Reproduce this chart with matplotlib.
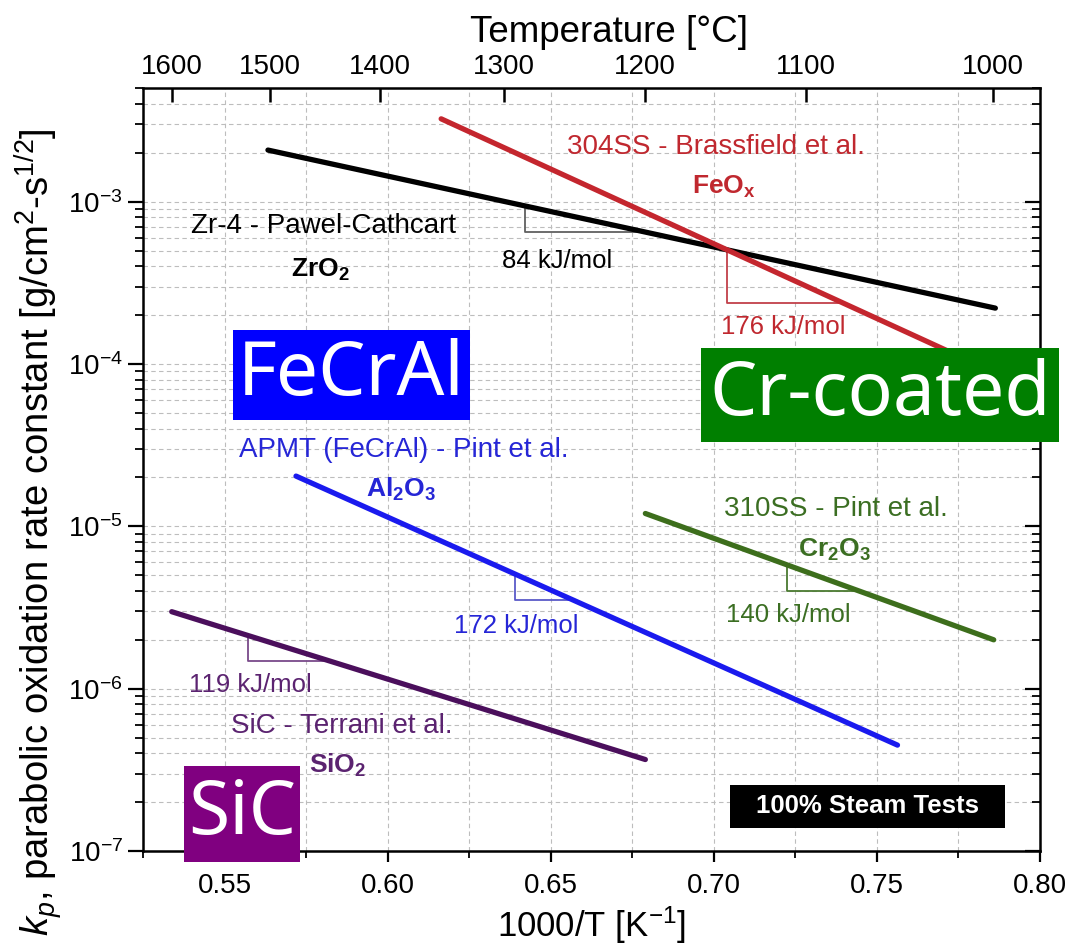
import matplotlib
matplotlib.use("Agg")
import matplotlib.pyplot as plt
import numpy as np
from matplotlib.patches import Rectangle
from matplotlib.ticker import LogLocator, NullFormatter, MultipleLocator

plt.rcParams['font.family'] = ['Liberation Sans', 'DejaVu Sans']
plt.rcParams['mathtext.fontset'] = 'custom'
plt.rcParams['mathtext.rm'] = 'Liberation Sans'
plt.rcParams['mathtext.it'] = 'Liberation Sans:italic'
plt.rcParams['mathtext.bf'] = 'Liberation Sans:bold'

# line end points: x = 1000/T [1/K], kp [g/cm2-s1/2]
zr_x = [0.5633, 0.7863]
zr_kp = [2.08e-3, 2.21e-4]
ss304_x = [0.6164, 0.7854]
ss304_kp = [3.24e-3, 9.0e-5]
apmt_x = [0.5719, 0.7563]
apmt_kp = [2.04e-5, 4.49e-7]
ss310_x = [0.6790, 0.7858]
ss310_kp = [1.20e-5, 2.0e-6]
sic_x = [0.5338, 0.6790]
sic_kp = [2.98e-6, 3.66e-7]

# slope triangles (x start / x end)
zr_tri = [0.6420, 0.6795]
ss304_tri = [0.7041, 0.7397]
apmt_tri = [0.6391, 0.6565]
ss310_tri = [0.7225, 0.7444]
sic_tri = [0.5571, 0.5818]

temps_C = [1600, 1500, 1400, 1300, 1200, 1100, 1000]


def on_line(xs, ys, xq):
    return 10 ** np.interp(xq, xs, np.log10(ys))


def triangle(ax, xs, ys, tri, color):
    y1 = on_line(xs, ys, tri[0])
    y2 = on_line(xs, ys, tri[1])
    ax.plot([tri[0], tri[0], tri[1]], [y1, y2, y2], color=color, lw=1.3, zorder=3)


fig = plt.figure(figsize=(10.69, 9.52), dpi=100)
ax = fig.add_axes([0.1338, 0.1061, 0.8391, 0.8015])

lines = [
    (zr_x, zr_kp, zr_tri, 'black', '#606060'),
    (ss304_x, ss304_kp, ss304_tri, '#c4262e', '#c2404a'),
    (apmt_x, apmt_kp, apmt_tri, '#1a1aee', '#5a5ac8'),
    (ss310_x, ss310_kp, ss310_tri, '#3d6e1c', '#4a7a30'),
    (sic_x, sic_kp, sic_tri, '#4b0f5c', '#7a4a8a'),
]
for xs, ys, tri, c, tc in lines:
    ax.plot(xs, ys, color=c, lw=3.8, solid_capstyle='round', zorder=4)
    triangle(ax, xs, ys, tri, tc)

ax.set_yscale('log')
ax.set_xlim(0.525, 0.80)
ax.set_ylim(1e-7, 5.02e-3)
ax.xaxis.set_major_locator(MultipleLocator(0.05))
ax.xaxis.set_minor_locator(MultipleLocator(0.025))
ax.xaxis.set_major_formatter(matplotlib.ticker.FormatStrFormatter('%.2f'))
ax.yaxis.set_major_locator(LogLocator(base=10))
ax.yaxis.set_minor_locator(LogLocator(base=10, subs=np.arange(2, 10)))
ax.yaxis.set_minor_formatter(NullFormatter())
ax.grid(which='both', ls=(0, (4, 3)), color='#bdbdbd', lw=0.8, zorder=0)
ax.tick_params(axis='x', which='major', direction='out', length=8, width=1.6, labelsize=20, pad=8)
ax.tick_params(axis='x', which='minor', direction='out', length=5, width=1.3)
ax.tick_params(axis='y', which='major', direction='out', length=11, width=1.6, labelsize=20, right=True)
ax.tick_params(axis='y', which='minor', direction='out', length=6, width=1.3, right=True)
for sp in ax.spines.values():
    sp.set_linewidth(1.8)
ax.set_xlabel(r'1000/T [K$^{-1}$]', fontsize=25, labelpad=4)

# right-side ticks point inward
for t in ax.yaxis.get_major_ticks() + ax.yaxis.get_minor_ticks():
    t.tick2line.set_marker(matplotlib.lines.TICKLEFT)

# top temperature axis
ax2 = ax.twiny()
ax2.set_xlim(ax.get_xlim())
ax2.set_xticks([1000.0 / (t + 273.15) for t in temps_C])
ax2.set_xticklabels([str(t) for t in temps_C])
ax2.tick_params(axis='x', direction='in', length=10, width=1.8, labelsize=20, pad=6)
ax2.set_xlabel('Temperature [°C]', fontsize=26.5)
ax2.xaxis.set_label_coords(0.52, 1.06)
for sp in ax2.spines.values():
    sp.set_visible(False)

fig.text(0.036, 0.441,
         r'$k_p$, parabolic oxidation rate constant [g/cm$^2$-s$^{1/2}$]',
         rotation=90, ha='center', va='center', fontsize=27.5)

# annotations (axes fraction)
T = ax.transAxes
ax.text(0.2007, 0.8191, 'Zr-4 - Pawel-Cathcart', transform=T, ha='center', va='center', fontsize=20, color='black')
ax.text(0.1973, 0.7620, r'$\mathbf{ZrO}_{\mathbf{2}}$', transform=T, ha='center', va='center', fontsize=19, color='black')
ax.text(0.4614, 0.7730, '84 kJ/mol', transform=T, ha='center', va='center', fontsize=18.5, color='black')

red = '#c0282f'
ax.text(0.6388, 0.9226, '304SS - Brassfield et al.', transform=T, ha='center', va='center', fontsize=20, color=red)
ax.text(0.6480, 0.8700, r'$\mathbf{FeO}_{\mathbf{x}}$', transform=T, ha='center', va='center', fontsize=19, color=red)
ax.text(0.7135, 0.6868, '176 kJ/mol', transform=T, ha='center', va='center', fontsize=18.5, color=red)

blue = '#2626d6'
ax.text(0.2910, 0.5256, 'APMT (FeCrAl) - Pint et al.', transform=T, ha='center', va='center', fontsize=20, color=blue)
ax.text(0.2876, 0.4740, r'$\mathbf{Al}_{\mathbf{2}}\mathbf{O}_{\mathbf{3}}$', transform=T, ha='center', va='center', fontsize=19, color=blue)
ax.text(0.4158, 0.2949, '172 kJ/mol', transform=T, ha='center', va='center', fontsize=18.5, color=blue)

green = '#3b6e22'
ax.text(0.7726, 0.4482, '310SS - Pint et al.', transform=T, ha='center', va='center', fontsize=20, color=green)
ax.text(0.7703, 0.3950, r'$\mathbf{Cr}_{\mathbf{2}}\mathbf{O}_{\mathbf{3}}$', transform=T, ha='center', va='center', fontsize=19, color=green)
ax.text(0.7191, 0.3093, '140 kJ/mol', transform=T, ha='center', va='center', fontsize=18.5, color=green)

purple = '#5b2370'
ax.text(0.1193, 0.2176, '119 kJ/mol', transform=T, ha='center', va='center', fontsize=18.5, color=purple)
ax.text(0.2219, 0.1638, 'SiC - Terrani et al.', transform=T, ha='center', va='center', fontsize=20, color=purple)
ax.text(0.2174, 0.1120, r'$\mathbf{SiO}_{\mathbf{2}}$', transform=T, ha='center', va='center', fontsize=19, color=purple)

# coloured labels (figure fraction)
boxes = [
    ('FeCrAl', '#0000ff', 0.2180, 0.5588, 0.2217, 0.0945),
    ('Cr-coated', '#007f00', 0.6557, 0.5357, 0.3349, 0.0987),
    ('SiC', '#800080', 0.1721, 0.0945, 0.1085, 0.1008),
]
for txt, fc, x0, y0, w, h in boxes:
    fig.patches.append(Rectangle((x0, y0), w, h, transform=fig.transFigure,
                                 facecolor=fc, edgecolor='none', zorder=10))
    fig.text(x0 + w / 2, y0 + h / 2, txt, ha='center', va='center', color='white',
             fontsize=54, family=['Noto Sans', 'DejaVu Sans'], zorder=11)

fig.patches.append(Rectangle((0.6830, 0.1303), 0.2573, 0.0452, transform=fig.transFigure,
                             facecolor='black', edgecolor='none', zorder=10))
fig.text(0.6830 + 0.2573 / 2, 0.1303 + 0.0452 / 2, '100% Steam Tests', ha='center', va='center',
         color='white', fontsize=18.5, fontweight='bold', zorder=11)

fig.savefig('out.png', dpi=100)
